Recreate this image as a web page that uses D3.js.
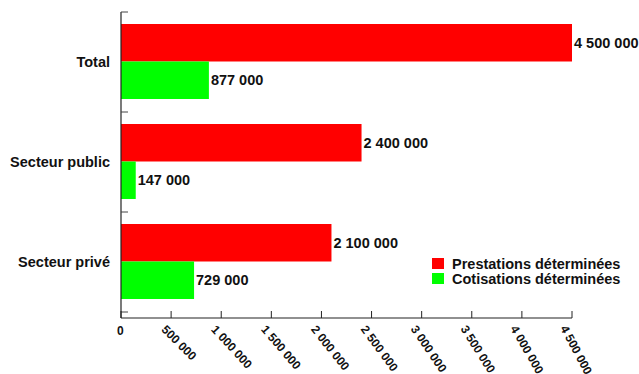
<!DOCTYPE html>
<html><head><meta charset="utf-8">
<script src="https://cdn.jsdelivr.net/npm/d3@7"></script>
<style>
body{margin:0;background:#fff;}
svg{display:block;font-family:"Liberation Sans",Arial,Helvetica,sans-serif;font-weight:bold;}
</style></head>
<body><svg id="c" width="639" height="374"></svg>
<script>
const categories = ["Total", "Secteur public", "Secteur privé"];
const seriesNames = ["Prestations déterminées", "Cotisations déterminées"];
const prestations = [4500000, 2400000, 2100000];
const cotisations = [877000, 147000, 729000];
const tickValues = [0,500000,1000000,1500000,2000000,2500000,3000000,3500000,4000000,4500000];
const colors = ["#ff0000", "#00ff00"];

const svg = d3.select("#c");
const plotLeft = 121, plotRight = 572, plotTop = 12, bandBottom = 312, axisY = 318;
const fmt = v => d3.format(",")(v).replace(/,/g, " ");

const x = d3.scaleLinear().domain([0, 4500000]).range([plotLeft, plotRight]);
const y = d3.scaleBand().domain(categories).range([plotTop, bandBottom]);
const y1 = d3.scaleBand().domain(seriesNames).range([12, 87]);

const seriesValues = [prestations, cotisations];

categories.forEach((c, ci) => {
  const g = svg.append("g").attr("transform", `translate(0,${y(c)})`);
  seriesNames.forEach((s, si) => {
    const v = seriesValues[si][ci];
    g.append("rect")
      .attr("x", x(0)).attr("y", y1(s))
      .attr("width", x(v) - x(0)).attr("height", y1.bandwidth())
      .attr("fill", colors[si]);
    g.append("text")
      .attr("x", x(v) + 2).attr("y", y1(s) + y1.bandwidth() / 2)
      .attr("dy", "0.36em").attr("font-size", 14.5).attr("fill", "#111")
      .text(fmt(v));
  });
  g.append("text")
    .attr("x", 110).attr("y", y.bandwidth() / 2)
    .attr("dy", "0.36em").attr("text-anchor", "end")
    .attr("font-size", 14.5).attr("fill", "#111").text(c);
});

svg.append("line").attr("x1", plotLeft).attr("x2", plotLeft).attr("y1", plotTop).attr("y2", axisY)
  .attr("stroke", "#222").attr("stroke-width", 1.2);
svg.append("line").attr("x1", plotLeft).attr("x2", plotRight).attr("y1", axisY).attr("y2", axisY)
  .attr("stroke", "#222").attr("stroke-width", 1.2);

const yb = categories.map(c => y(c)).concat([bandBottom]);
svg.selectAll(".yt").data(yb).enter().append("line")
  .attr("x1", plotLeft).attr("x2", plotLeft + 7).attr("y1", d => d).attr("y2", d => d)
  .attr("stroke", "#444").attr("stroke-width", 1);

svg.selectAll(".xt").data(tickValues).enter().append("line")
  .attr("x1", d => x(d)).attr("x2", d => x(d)).attr("y1", axisY - 7).attr("y2", axisY)
  .attr("stroke", "#222").attr("stroke-width", 1);

svg.selectAll(".xl").data(tickValues).enter().append("text")
  .attr("transform", (d, i) => i === 0 ? `translate(${x(d) - 4},${axisY + 8})` :
        `translate(${x(d) - 4},${axisY + 6}) rotate(${43 + i * 2.1})`)
  .attr("dy", "0.75em").attr("font-size", 12).attr("fill", "#111")
  .text(d => fmt(d));

const lg = svg.append("g").attr("transform", "translate(432,258)");
seriesNames.forEach((s, i) => {
  lg.append("rect").attr("x", 0).attr("y", i * 15).attr("width", 12).attr("height", 11).attr("fill", colors[i]);
  lg.append("text").attr("x", 20).attr("y", i * 15 + 5.5).attr("dy", "0.36em")
    .attr("font-size", 14.5).attr("fill", "#111").text(s);
});
</script></body></html>
